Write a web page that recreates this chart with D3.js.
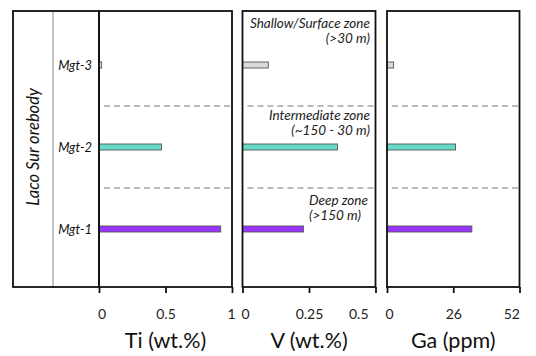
<!DOCTYPE html>
<html>
<head>
<meta charset="utf-8">
<script src="https://cdn.jsdelivr.net/npm/d3@7"></script>
<style>
  body { margin: 0; background: #fff; }
  svg { display: block; font-family: Lato, "Open Sans", sans-serif; }
</style>
</head>
<body>
<svg id="plot" width="536" height="356"></svg>
<script>
const samples = ['Mgt-3', 'Mgt-2', 'Mgt-1'];
const sampleColors = ['#d9d9d9', '#66d9c8', '#9933ff'];
const tiValues = [0.02, 0.47, 0.915];
const vValues = [0.097, 0.357, 0.229];
const gaValues = [2.6, 26.9, 33.3];
const tiTicks = [0, 0.5, 1];
const vTicks = [0, 0.25, 0.5];
const gaTicks = [0, 26, 52];
const zoneLabels = [
  ['Shallow/Surface zone', '(>30 m)'],
  ['Intermediate zone', '(~150 - 30 m)'],
  ['Deep zone', '(>150 m)']
];

const svg = d3.select('#plot');
const plotTop = 11, plotBottom = 287;

const yScale = d3.scalePoint()
  .domain(samples)
  .range([65, 229]);
const step = yScale.step();
const barH = 6;

// lastDx: nudge of the last tick label (end-anchored)
const panels = [
  { title: 'Ti (wt.%)', values: tiValues, ticks: tiTicks, x0: 99, x1: 232, firstDx: -1.5, lastDx: 0 },
  { title: 'V (wt.%)', values: vValues, ticks: vTicks, x0: 242.5, x1: 375.5, firstDx: -1.5, lastDx: -7.5 },
  { title: 'Ga (ppm)', values: gaValues, ticks: gaTicks, x0: 387, x1: 519.5, firstDx: -2, lastDx: 0 }
];

// label column on the far left
const leftX = 13, midX = 53;
svg.append('line')
  .attr('x1', midX).attr('x2', midX)
  .attr('y1', plotTop).attr('y2', plotBottom)
  .attr('stroke', '#888').attr('stroke-width', 1);
svg.append('rect')
  .attr('x', leftX).attr('y', plotTop)
  .attr('width', panels[0].x0 - leftX).attr('height', plotBottom - plotTop)
  .attr('fill', 'none').attr('stroke', '#111').attr('stroke-width', 1.8);

svg.append('text')
  .attr('transform', `translate(${(leftX + midX) / 2 + 5.5}, ${(plotTop + plotBottom) / 2 - 2}) rotate(-90)`)
  .attr('text-anchor', 'middle')
  .attr('font-size', 16.5)
  .attr('font-style', 'italic')
  .attr('fill', '#111')
  .text('Laco Sur orebody');

svg.selectAll('.sample-label').data(samples)
  .enter().append('text')
    .attr('class', 'sample-label')
    .attr('x', 92)
    .attr('y', d => yScale(d) + 4.5)
    .attr('text-anchor', 'end')
    .attr('font-size', 13)
    .attr('font-style', 'italic')
    .attr('fill', '#111')
    .text(d => d);

panels.forEach(p => {
  const xScale = d3.scaleLinear()
    .domain([p.ticks[0], p.ticks[p.ticks.length - 1]])
    .range([p.x0, p.x1]);
  const g = svg.append('g');

  // dashed zone separators
  const seps = [samples[0], samples[1]].map(s => yScale(s) + step / 2);
  g.selectAll('.sep').data(seps)
    .enter().append('line')
      .attr('x1', p.x0 + 5).attr('x2', p.x1)
      .attr('y1', d => d).attr('y2', d => d)
      .attr('stroke', '#777').attr('stroke-width', 1)
      .attr('stroke-dasharray', '6,4');

  // bars
  g.selectAll('.bar').data(p.values)
    .enter().append('rect')
      .attr('x', xScale(0))
      .attr('y', (d, i) => yScale(samples[i]) - barH / 2)
      .attr('width', d => xScale(d) - xScale(0))
      .attr('height', barH)
      .attr('fill', (d, i) => sampleColors[i])
      .attr('stroke', '#555')
      .attr('stroke-width', 0.9);

  // frame
  g.append('rect')
    .attr('x', p.x0).attr('y', plotTop)
    .attr('width', p.x1 - p.x0).attr('height', plotBottom - plotTop)
    .attr('fill', 'none').attr('stroke', '#111').attr('stroke-width', 1.8);

  // bottom axis
  const axis = d3.axisBottom(xScale)
    .tickValues(p.ticks)
    .tickSize(6)
    .tickPadding(16)
    .tickFormat(d => d);
  const ax = g.append('g')
    .attr('transform', `translate(0, ${plotBottom})`)
    .call(axis);
  ax.select('.domain').remove();
  ax.selectAll('line').attr('stroke', '#111').attr('stroke-width', 1.8);
  const last = p.ticks.length - 1;
  ax.selectAll('text')
    .attr('font-size', 14)
    .attr('fill', '#222')
    .style('font-family', 'Lato, "Open Sans", sans-serif')
    .attr('text-anchor', (d, i) => i === 0 ? 'start' : i === last ? 'end' : 'middle')
    .attr('x', (d, i) => i === 0 ? p.firstDx : i === last ? p.lastDx : 0);
  if (p.lastDx === 0 && p.title.startsWith('Ti')) {
    // single narrow digit sits right on its tick
    ax.selectAll('text').filter((d, i) => i === last)
      .attr('text-anchor', 'middle').attr('x', -1);
  }

  g.append('text')
    .attr('x', (p.x0 + p.x1) / 2)
    .attr('y', 348)
    .attr('text-anchor', 'middle')
    .attr('font-size', 21.5)
    .attr('fill', '#111')
    .text(p.title);
});

// zone labels inside the V panel
const zoneG = svg.append('g')
  .attr('font-size', 13.5)
  .attr('font-style', 'italic')
  .attr('fill', '#222');
const zoneY = [[28, 43], [120, 134.5], [205, 220]];
zoneLabels.forEach((lines, i) => {
  lines.forEach((t, j) => {
    const deep = i === 2;
    zoneG.append('text')
      .attr('x', deep ? 309 : 370)
      .attr('y', zoneY[i][j])
      .attr('text-anchor', deep ? 'start' : 'end')
      .text(t);
  });
});
</script>
</body>
</html>
